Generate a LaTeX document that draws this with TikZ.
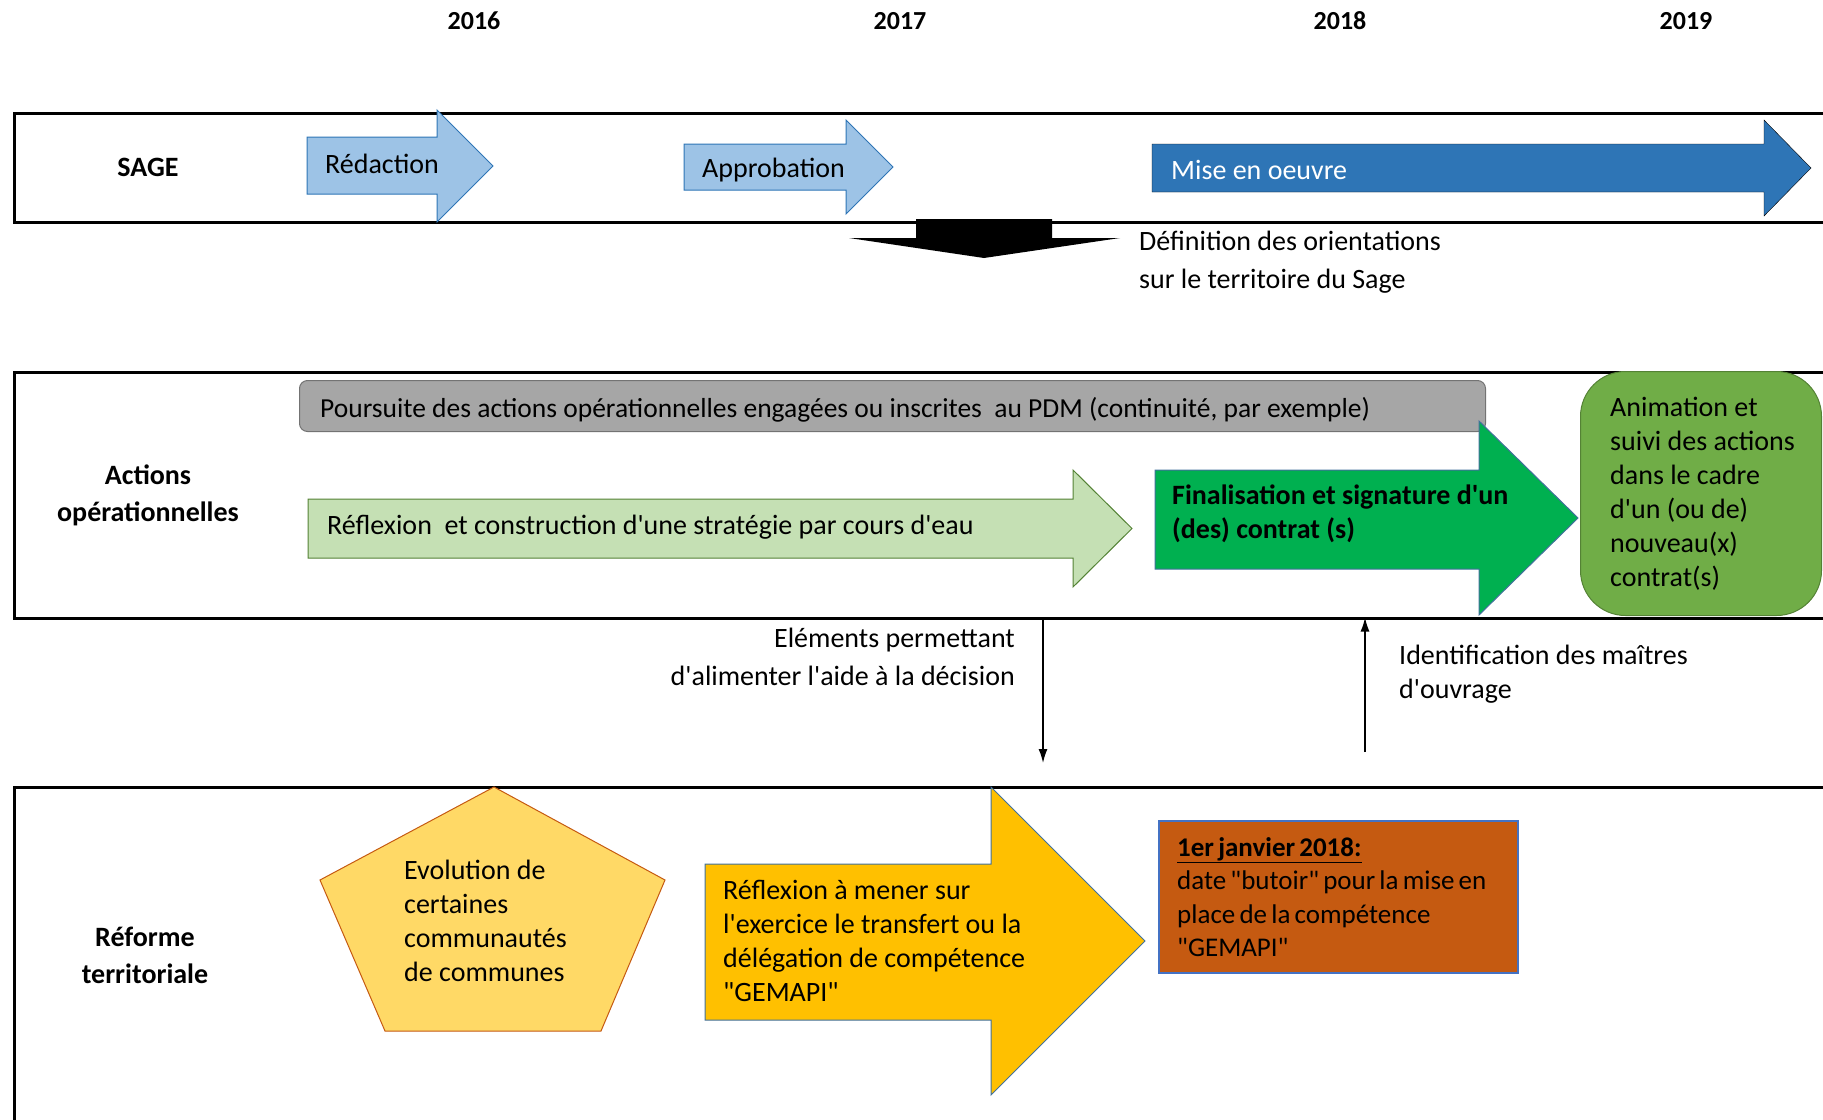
\documentclass[tikz,border=0pt]{standalone}
\usepackage{fontspec}
\setmainfont{Carlito}[Ligatures=TeXOff]
\usetikzlibrary{arrows.meta,positioning}

\definecolor{bleupale}{HTML}{9DC3E6}
\definecolor{bleufonce}{HTML}{2E75B6}
\definecolor{bleutrait}{HTML}{41719C}
\definecolor{grisfond}{HTML}{A6A6A6}
\definecolor{vertpale}{HTML}{C5E0B4}
\definecolor{vertvif}{HTML}{00B050}
\definecolor{vertmoyen}{HTML}{70AD47}
\definecolor{vertsombre}{HTML}{548235}
\definecolor{jaunepale}{HTML}{FFD966}
\definecolor{jaunevif}{HTML}{FFC000}
\definecolor{orangebrun}{HTML}{C55A11}
\definecolor{bleubord}{HTML}{4472C4}

% font size, line spacing
\newcommand{\police}[2]{\fontsize{#1}{#2}\selectfont}
% slightly tighter word spacing
\newcommand{\serre}{\spaceskip=4.2pt plus 1pt\relax}

% block arrow: style, x left, x neck, x tip, body top, body bottom, head top, head bottom
\newcommand{\flechebloc}[8]{%
  \draw[#1] (#2,#5) -- (#3,#5) -- (#3,#7) -- (#4,{(#7+#8)/2}) -- (#3,#8) -- (#3,#6) -- (#2,#6) -- cycle;}

\begin{document}
\begin{tikzpicture}[x=1pt,y=-1pt,
  texte/.style={font=\police{28}{34}, inner sep=0pt},
  titre/.style={font=\police{28}{37}\bfseries, inner sep=0pt, align=center},
  annee/.style={font=\police{26}{30}\bfseries, inner sep=0pt},
  lane/.style={draw=black, line width=2.5pt, anchor=north west, inner sep=0pt},
  cadre/.style={line width=1pt, inner sep=0pt, anchor=north west},
  etape/.style={draw=bleufonce, line width=1pt, fill=bleupale},
  fleche/.style={-{Latex[length=14pt,width=9pt]}, line width=1.5pt}]
  \useasboundingbox (0,0) rectangle (1823,1119);
  \clip (0,0) rectangle (1823,1119);

  % years
  \node[annee] (a2016) at (474,21) {2016};
  \node[annee] (a2017) at (900,21) {2017};
  \node[annee] (a2018) at (1340,21) {2018};
  \node[annee] (a2019) at (1686,21) {2019};

  % lanes
  \node[lane, minimum width=1840pt, minimum height=109pt] (sage) at (13,112) {};
  \node[lane, minimum width=1840pt, minimum height=246pt] (actions) at (13,371) {};
  \node[lane, minimum width=1840pt, minimum height=400pt] (reforme) at (13,786) {};
  \node[titre] (lsage) at (148,167) {SAGE};
  \node[titre] (lactions) at (148,495) {Actions\\opérationnelles};
  \node[titre] (lreforme) at (145,955) {Réforme\\territoriale};

  % SAGE
  \flechebloc{etape}{307}{437}{493}{137}{194}{110}{222}
  \flechebloc{etape}{684}{846}{893}{144}{190}{120}{214}
  \flechebloc{fill=bleufonce}{1152}{1764}{1811}{144}{192}{120}{216}
  \node[texte, anchor=west] (redaction) at (325,164) {Rédaction};
  \node[texte, anchor=west] (approbation) at (702,170) {Approbation};
  \node[texte, anchor=west, text=white] (miseoeuvre) at (1171,170) {Mise en oeuvre};
  \fill (916,219) -- (1052,219) -- (1052,238) -- (1120,238) -- (984,258)
    -- (849,238) -- (916,238) -- cycle;
  \node[texte, anchor=west, align=left, font=\police{28}{38}] (definition)
    at (1139,262) {Définition des orientations\\sur le territoire du Sage};

  % actions operationnelles
  \node[cadre, draw=black!55, fill=grisfond, rounded corners=8pt,
    minimum width=1186pt, minimum height=51pt] (gris) at (299,380) {};
  \node[texte, anchor=west, font=\police{27.5}{34}] (poursuite) at (320,410)
    {Poursuite des actions opérationnelles engagées ou inscrites\ \ au PDM (continuité, par exemple)};
  \flechebloc{draw=vertsombre, line width=1pt, fill=vertpale}{308}{1073}{1132}{499}{558}{470}{587}
  \node[texte, anchor=west] (reflexion) at (327,527)
    {Réflexion\ \ et construction d'une stratégie par cours d'eau};
  \flechebloc{draw=bleutrait, line width=1pt, fill=vertvif}{1155}{1479}{1578}{470}{569}{421}{615}
  \node[texte, anchor=west, align=left, font=\police{28}{34}\bfseries] (finalisation)
    at (1172,514) {Finalisation et signature d'un\\(des) contrat (s)};
  \node[cadre, draw=vertsombre, fill=vertmoyen, rounded corners=45pt,
    minimum width=241pt, minimum height=244pt] (vert) at (1580,371) {};
  \node[texte, anchor=west, align=left] (animation) at (1610,494)
    {Animation et\\suivi des actions\\dans le cadre\\d'un (ou de)\\nouveau(x)\\contrat(s)};

  % liens entre lanes
  \coordinate (elem) at (1043,763);
  \coordinate (ident) at (1365,752);
  \draw[fleche] (actions.south -| elem) -- (elem);
  \draw[fleche] (ident) -- ([yshift=2pt]ident |- actions.south);
  \node[texte, anchor=east, align=right, font=\police{28}{38}] (elements)
    at (1015,657) {Eléments permettant\\d'alimenter l'aide à la décision};
  \node[texte, anchor=west, align=left] (identification)
    at (1399,674) {Identification des maîtres\\d'ouvrage};

  % reforme territoriale
  \draw[draw=orangebrun, line width=1pt, fill=jaunepale]
    (494,787) -- (665,880) -- (601,1031) -- (385,1031) -- (320,880) -- cycle;
  \node[texte, anchor=west, align=left] (evolution) at (404,921)
    {Evolution de\\certaines\\communautés\\de communes};
  \flechebloc{draw=bleutrait, line width=1pt, fill=jaunevif}{705}{991}{1145}{864}{1020}{787}{1095}
  \node[texte, anchor=west, align=left] (gemapi) at (723,941)
    {Réflexion à mener sur\\l'exercice le transfert ou la\\délégation de compétence\\"GEMAPI"};
  \node[cadre, draw=bleubord, fill=orangebrun, line width=1.5pt,
    minimum width=359pt, minimum height=152pt] (orange) at (1158,820) {};
  \node[texte, anchor=west, align=left, font=\police{27}{33.5}\serre] (butoir)
    at (1177,897)
    {\textbf{\underline{1er janvier 2018:}}\\date "butoir" pour la mise en\\place de la compétence\\"GEMAPI"};
\end{tikzpicture}
\end{document}
